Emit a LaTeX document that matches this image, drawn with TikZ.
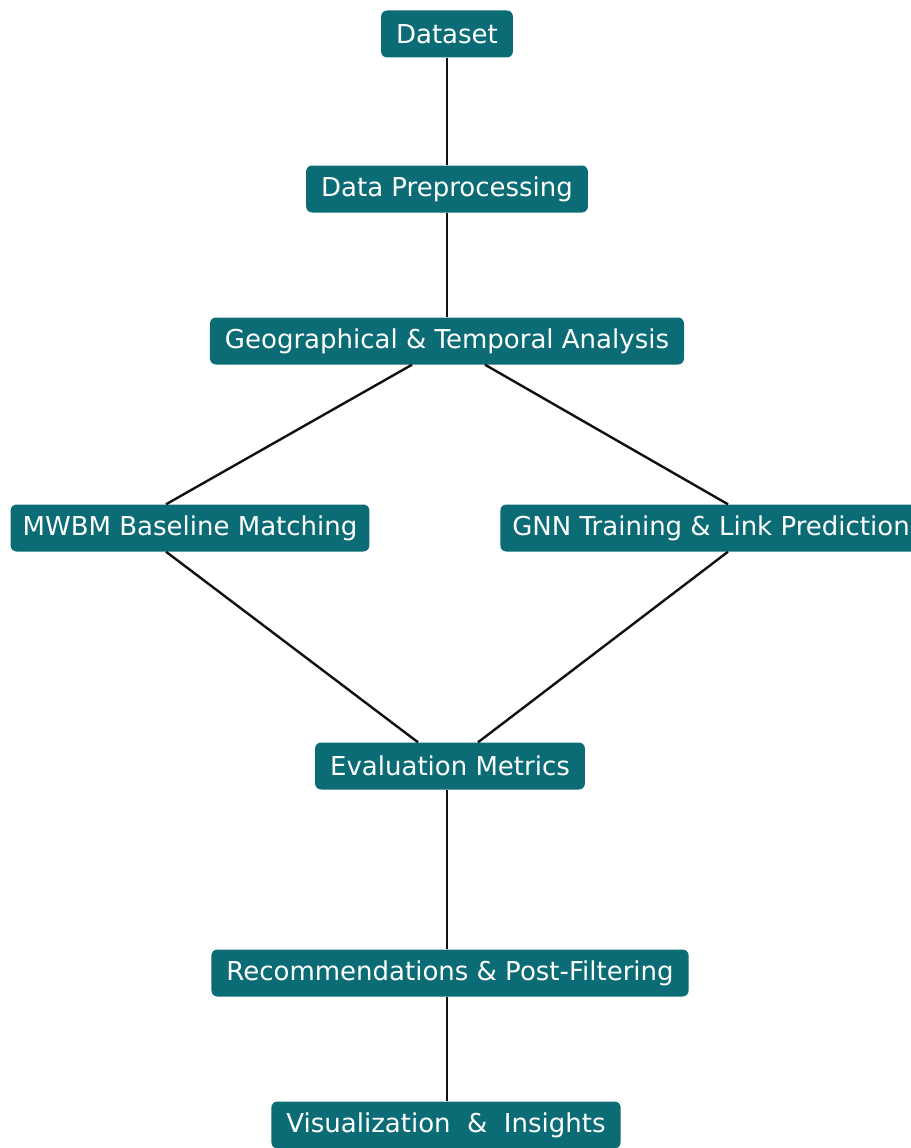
\documentclass[tikz,border=0pt]{standalone}
\usepackage{fontspec}
\setmainfont{DejaVu Sans}
\usepackage{xcolor}
\definecolor{flow-main}{HTML}{0C6C76}
\definecolor{flow-line}{HTML}{111111}
\usepackage{tikz}

\tikzset{
    stepbox/.style={fill=flow-main, text=white, rounded corners=6pt, minimum height=47pt, inner xsep=15pt, font=\fontsize{26}{30}\selectfont},
    link/.style={draw=flow-line, line width=2.4pt}
}

\begin{document}
\begin{tikzpicture}[x=1pt, y=1pt]

    % Canvas
    \useasboundingbox (0, 0) rectangle (910, -1148);

    % Nodes
    \node[stepbox] (dataset) at (447, -34) {Dataset};
    \node[stepbox] (prep) at (447, -189) {Data Preprocessing};
    \node[stepbox] (geo) at (447, -341) {Geographical \& Temporal Analysis};
    \node[stepbox, inner xsep=12pt] (mwbm) at (190, -528) {MWBM Baseline Matching};
    \node[stepbox, inner xsep=12pt] (gnn) at (711, -528) {GNN Training \& Link Prediction};
    \node[stepbox] (eval) at (450, -766) {Evaluation Metrics};
    \node[stepbox] (recs) at (450, -973) {Recommendations \& Post-Filtering};
    \node[stepbox] (vis) at (446, -1125) {Visualization \ \& \ Insights};

    % Connectors
    \draw[link] (dataset.south) -- (prep.north);
    \draw[link] (prep.south) -- (geo.north);
    \draw[link] ([xshift=-35pt]geo.south) -- ([xshift=-24pt]mwbm.north);
    \draw[link] ([xshift=38pt]geo.south) -- ([xshift=17pt]gnn.north);
    \draw[link] ([xshift=-24pt]mwbm.south) -- ([xshift=-32pt]eval.north);
    \draw[link] ([xshift=17pt]gnn.south) -- ([xshift=28pt]eval.north);
    \draw[link] ([xshift=-3pt]eval.south) -- ([xshift=-3pt]recs.north);
    \draw[link] ([xshift=-3pt]recs.south) -- ([xshift=1pt]vis.north);

\end{tikzpicture}
\end{document}
